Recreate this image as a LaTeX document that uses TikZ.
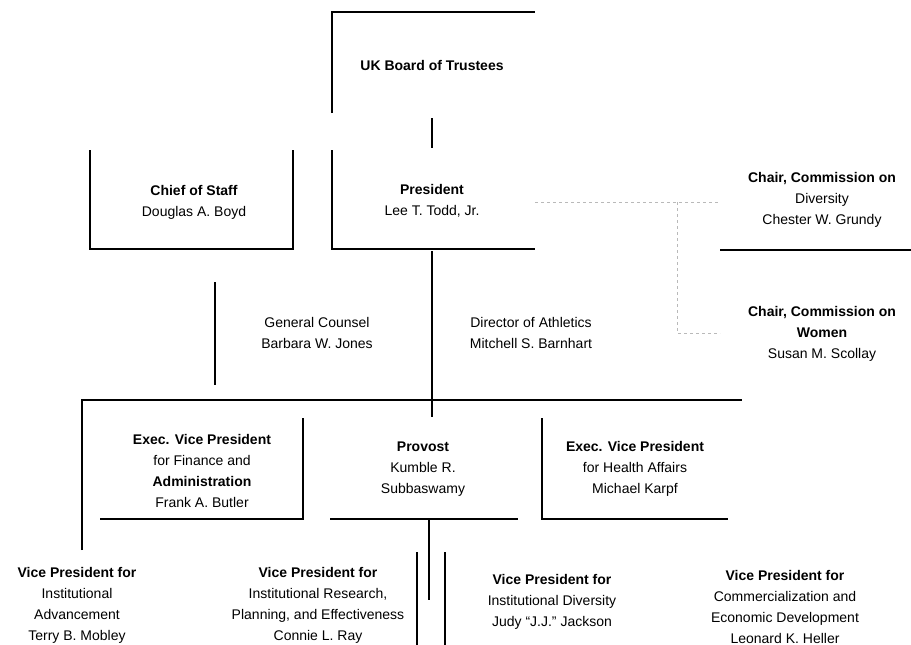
\documentclass[tikz,border=0pt]{standalone}
\usepackage{fontspec}
\setmainfont{Liberation Sans}
\begin{document}
\begin{tikzpicture}[x=1pt,y=-1pt]
\tikzset{poste/.style={align=center, inner sep=0pt, font=\fontsize{14}{21}\selectfont},
trait/.style={line width=2.6pt},
pointille/.style={gray!55, dashed, line width=1pt}}
\useasboundingbox (0,0) rectangle (911,645);
\node[poste] (CA) at (432,65) {\textbf{UK Board of Trustees}};
\node[poste] (PR) at (432,201) {\textbf{President}\\Lee T. Todd, Jr.};
\node[poste] (CS) at (194,202) {\textbf{Chief of Staff}\\Douglas A. Boyd};
\node[poste] (GC) at (317,333) {General Counsel\\Barbara W. Jones};
\node[poste] (DA) at (531,333) {Director of Athletics\\Mitchell S. Barnhart};
\node[poste] (CD) at (822,200) {\textbf{Chair, Commission on}\\Diversity\\Chester W. Grundy};
\node[poste] (CF) at (822,334) {\textbf{Chair, Commission on}\\\textbf{Women}\\Susan M. Scollay};
\node[poste] (VF) at (202,471) {\textbf{Exec. Vice President}\\for Finance and\\\textbf{Administration}\\Frank A. Butler};
\node[poste] (PV) at (423,469) {\textbf{Provost}\\Kumble R.\\Subbaswamy};
\node[poste] (VS) at (635,469) {\textbf{Exec. Vice President}\\for Health Affairs\\Michael Karpf};
\node[poste] (VA) at (77,605) {\textbf{Vice President for}\\Institutional\\Advancement\\Terry B. Mobley};
\node[poste] (VR) at (318,605) {\textbf{Vice President for}\\Institutional Research,\\Planning, and Effectiveness\\Connie L. Ray};
\node[poste] (VD) at (552,602) {\textbf{Vice President for}\\Institutional Diversity\\Judy ``J.J.'' Jackson};
\node[poste] (VC) at (785,607) {\textbf{Vice President for}\\Commercialization and\\Economic Development\\Leonard K. Heller};
\coordinate (CA1) at (432,118);
\coordinate (PR1) at (432,148);
\coordinate (PR2) at (432,251);
\coordinate (PV1) at (432,417);
\coordinate (CS1) at (215,282);
\coordinate (CS2) at (215,385);
\coordinate (VA1) at (82,550);
\coordinate (N1) at (742,400);
\coordinate (PV2) at (429,519);
\coordinate (PV3) at (429,600);
\coordinate (VR1) at (417,552);
\coordinate (VR2) at (417,645);
\coordinate (VD1) at (445,552);
\coordinate (VD2) at (445,645);
\coordinate (PR3) at (535,202);
\coordinate (CD1) at (720,202);
\coordinate (CF1) at (720,333);
\coordinate (T1) at (677,202);
\draw[trait] (332,113) |- (535,12);
\draw[trait] (332,150) |- (535,249);
\draw[trait] (90,150) |- (293,249) -- (293,150);
\draw[trait] (100,519) -| (303,418);
\draw[trait] (330,519) -- (518,519);
\draw[trait] (542,418) |- (728,519);
\draw[trait] (720,250) -- (911,250);
\draw[trait] (CA1) -- (PR1);
\draw[trait] (PR2) -- (PV1);
\draw[trait] (CS1) -- (CS2);
\draw[trait] (VA1) |- (N1);
\draw[trait] (PV2) -- (PV3);
\draw[trait] (VR1) -- (VR2);
\draw[trait] (VD1) -- (VD2);
\draw[pointille] (PR3) -- (CD1);
\draw[pointille] (T1) |- (CF1);
\end{tikzpicture}
\end{document}
